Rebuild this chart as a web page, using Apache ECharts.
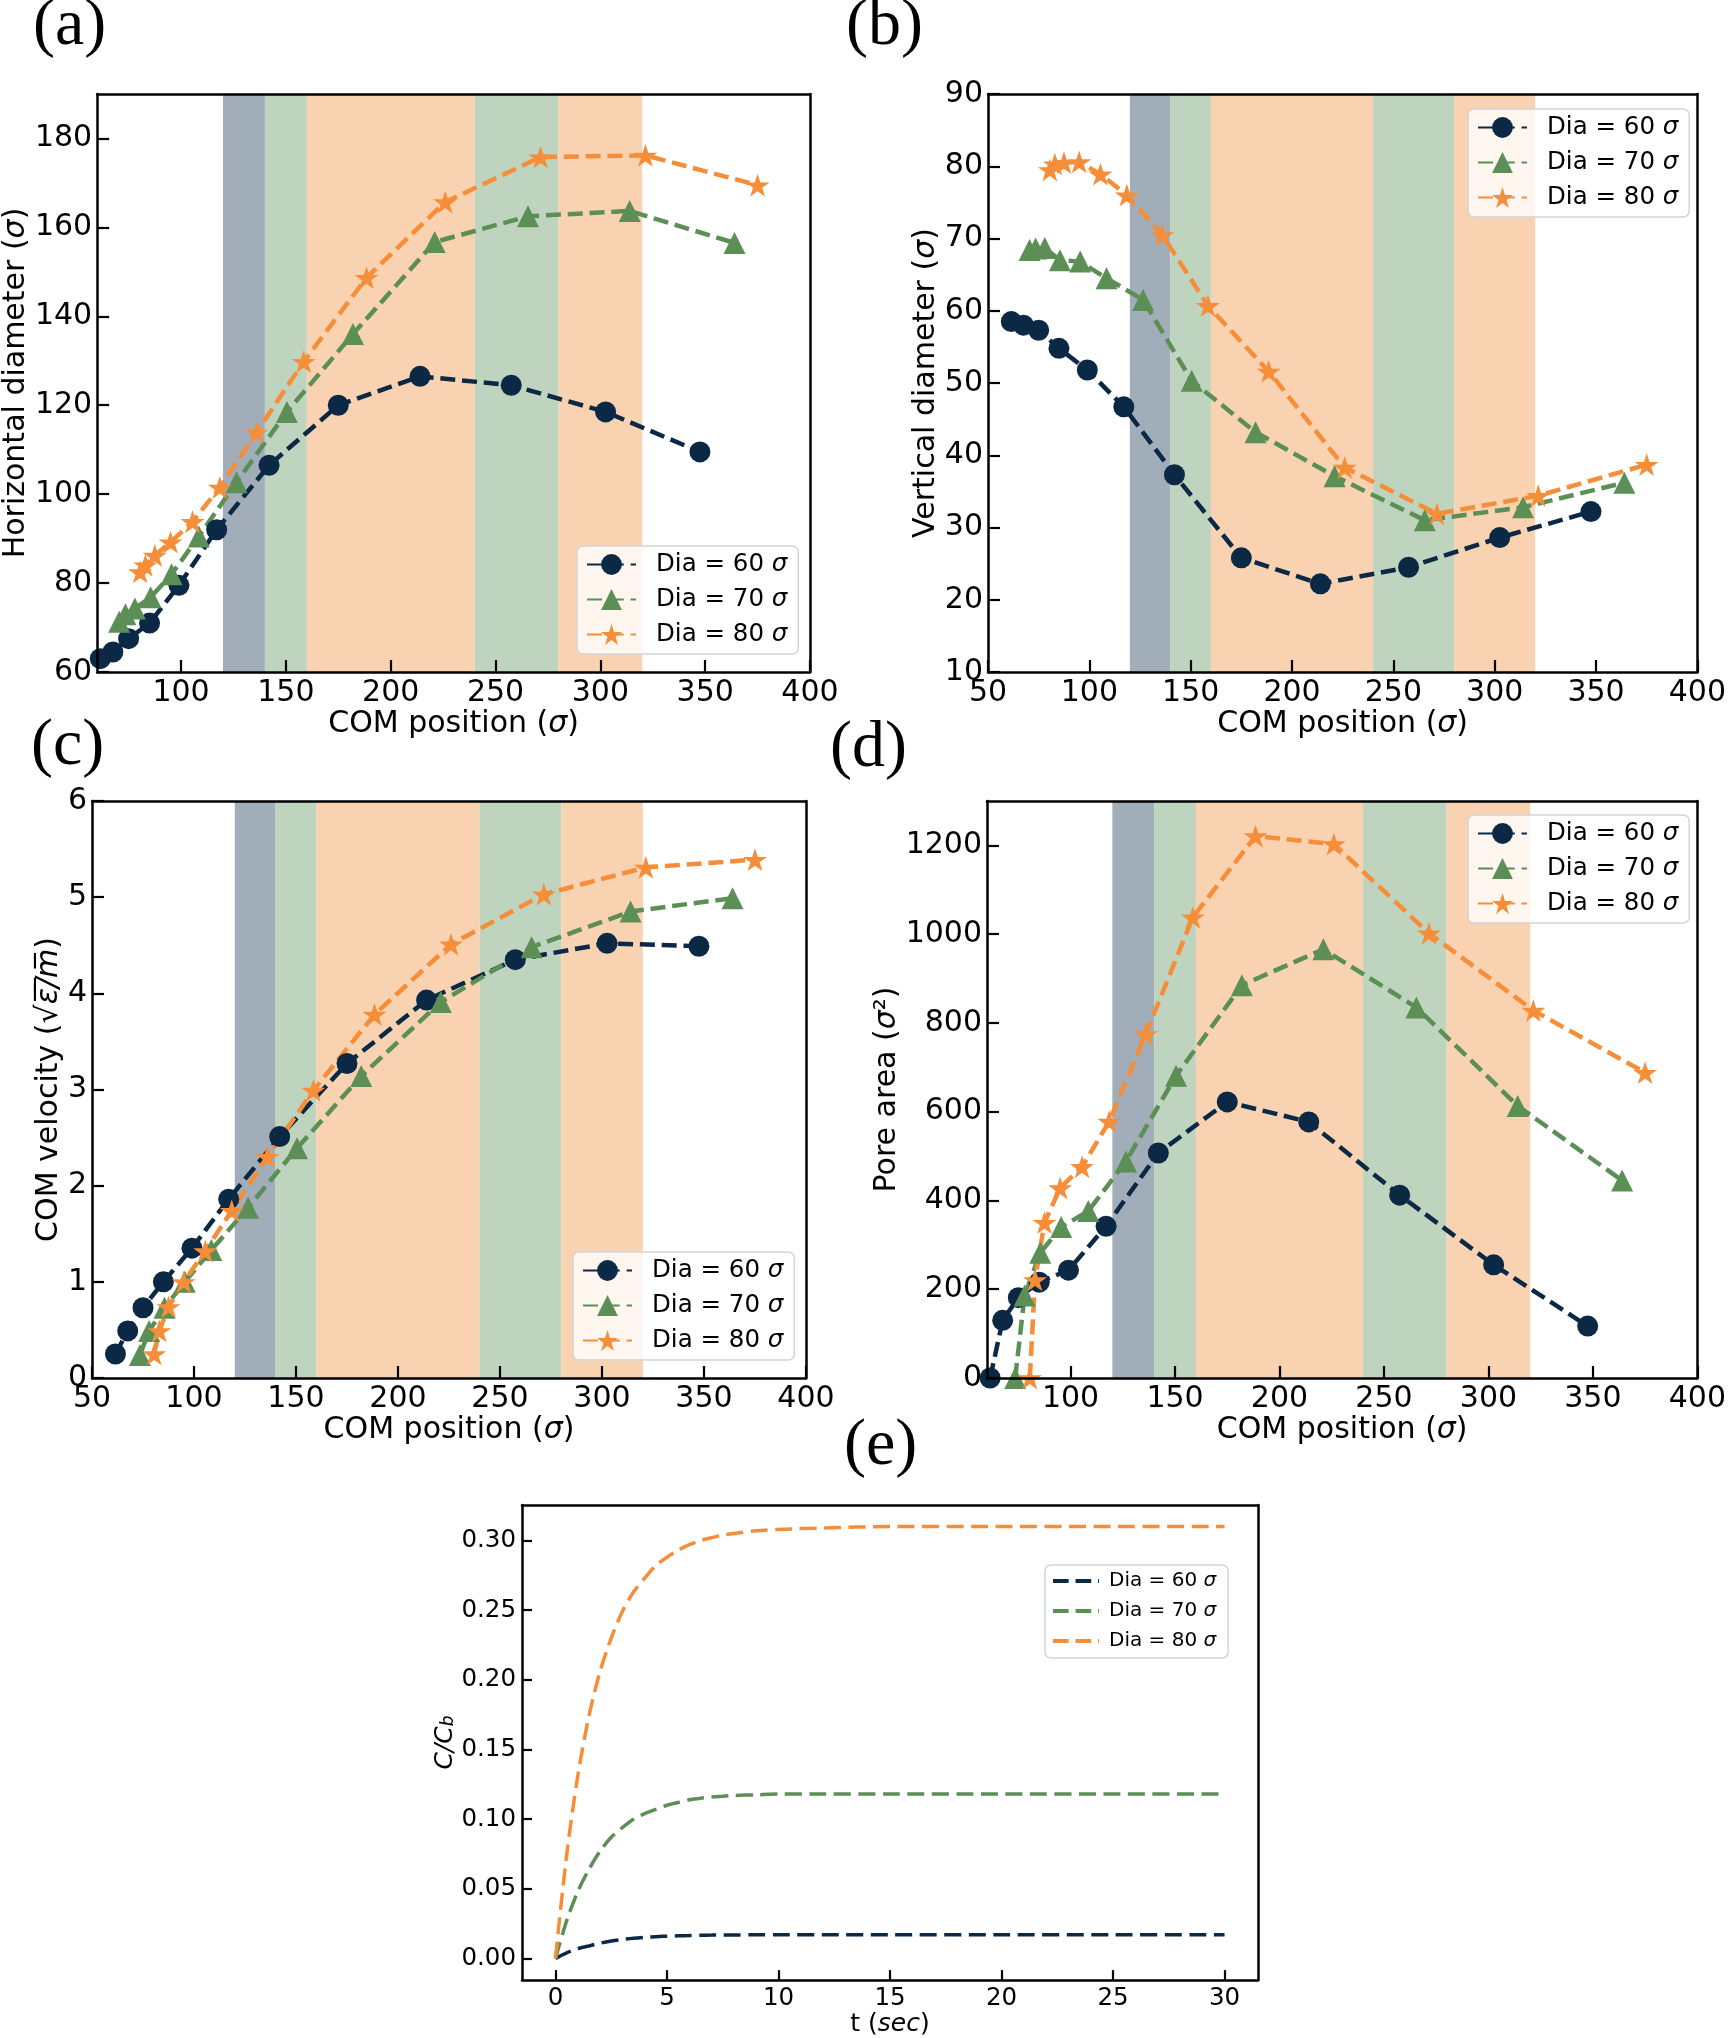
<!DOCTYPE html>
<html><head><meta charset="utf-8">
<script src="https://cdn.jsdelivr.net/npm/echarts@6/dist/echarts.min.js"></script>
<style>html,body{margin:0;padding:0;background:#fff}#c{width:1729px;height:2038px}</style>
</head><body><div id="c"></div>
<script>
// ---------------- data ----------------
const dias = [60, 70, 80];
// COM positions (sigma)
const pos60 = [61.5, 67.5, 75, 85, 99, 117, 142, 175, 214, 257.5, 302.5, 347.5];
const pos70 = [70.5, 73.5, 78, 85.5, 95.5, 108.5, 126.5, 150.5, 182, 221, 265.5, 314, 364];
const pos70cd = [73.5, 78, 85.5, 95.5, 108.5, 126.5, 150.5, 182, 221, 265.5, 314, 364];
const pos80 = [80.5, 83, 87.5, 95, 105.5, 118.5, 136, 158.5, 188.5, 226, 271.5, 321.5, 375];
// (a) horizontal diameter
const hDia60 = [63, 64.5, 67.5, 71, 79.5, 92, 106.5, 120, 126.5, 124.5, 118.5, 109.5];
const hDia70 = [71.3, 73, 74.3, 76.8, 82, 90.5, 102.7, 118.5, 136, 156.7, 162.5, 163.7, 156.5];
const hDia80 = [82.5, 84, 86.2, 89.2, 93.8, 101.5, 113.9, 129.8, 148.7, 165.7, 175.8, 176.2, 169.5];
// (b) vertical diameter
const vDia60 = [58.5, 58.0, 57.3, 54.8, 51.8, 46.7, 37.3, 25.8, 22.2, 24.5, 28.6, 32.2];
const vDia70 = [68.4, 68.6, 68.7, 67.0, 66.8, 64.5, 61.5, 50.3, 43.2, 37.1, 31.0, 32.8, 36.2];
const vDia80 = [79.5, 80.3, 80.5, 80.6, 78.9, 76.0, 70.5, 60.7, 51.6, 38.3, 31.9, 34.4, 38.7];
// (c) COM velocity
const vel60 = [0.25, 0.49, 0.73, 1.0, 1.35, 1.86, 2.51, 3.27, 3.93, 4.35, 4.52, 4.49];
const vel70 = [0.24, 0.49, 0.73, 1.0, 1.33, 1.77, 2.39, 3.14, 3.91, 4.48, 4.85, 4.99];
const vel80 = [0.25, 0.49, 0.74, 1.0, 1.32, 1.74, 2.30, 2.99, 3.78, 4.51, 5.03, 5.31, 5.39];
// (d) pore area
const area60 = [0, 130, 181, 216, 243, 342, 507, 622, 577, 412, 255, 117];
const area70 = [0, 186, 282, 340, 376, 488, 681, 885, 966, 835, 613, 445];
const area80 = [0, 221, 350, 428, 476, 578, 775, 1038, 1221, 1203, 1002, 828, 688];
// (e) concentration vs time
const tSec = [0, 0.5, 1, 1.5, 2, 2.5, 3, 3.5, 4, 4.5, 5, 5.5, 6, 6.5, 7, 7.5, 8, 9, 10, 12, 15, 20, 25, 30];
const conc60 = [0, 0.004, 0.007, 0.009, 0.011, 0.0125, 0.0137, 0.0146, 0.0152, 0.0157, 0.016, 0.0163, 0.0165, 0.0167, 0.0168, 0.0169, 0.0169, 0.017, 0.017, 0.017, 0.017, 0.017, 0.017, 0.017];
const conc70 = [0, 0.027, 0.048, 0.064, 0.077, 0.087, 0.094, 0.100, 0.104, 0.107, 0.110, 0.112, 0.114, 0.115, 0.116, 0.1165, 0.117, 0.1175, 0.118, 0.118, 0.118, 0.118, 0.118, 0.118];
const conc80 = [0, 0.074, 0.131, 0.174, 0.206, 0.230, 0.249, 0.263, 0.273, 0.282, 0.288, 0.293, 0.297, 0.300, 0.302, 0.304, 0.305, 0.307, 0.308, 0.309, 0.31, 0.31, 0.31, 0.31];
// shaded regions (COM position)
const bandEdges = [120, 140, 160, 240, 280, 320];
const bandKinds = ['dark', 'green', 'peach', 'green', 'peach'];
const panelLetters = ['(a)', '(b)', '(c)', '(d)', '(e)'];

// ---------------- styling ----------------
const FONT = "'DejaVu Sans', sans-serif";
const BLACK = '#000';
const colors = {60: '#0b2845', 70: '#5b8f55', 80: '#f68e39'};
const bandColors = {dark: '#a1adb9', green: '#bfd4bf', peach: '#f9d2b1'};
const symbols = {60: 'circle', 70: 'triangle', 80: (function () {
  let s = 'path://';
  for (let k = 0; k < 10; k++) {
    const r = k % 2 ? 0.382 : 1;
    const a = (-90 + 36 * k) * Math.PI / 180;
    s += (k ? 'L' : 'M') + (r * Math.cos(a)).toFixed(4) + ',' + (r * Math.sin(a)).toFixed(4) + ' ';
  }
  return s + 'Z';
})()};
const symSizes = {60: 21, 70: 22, 80: 24};

function rich(fs) {
  return {
    i: {fontStyle: 'italic', fontFamily: FONT, fontSize: fs, color: BLACK},
    s: {fontStyle: 'italic', fontFamily: FONT, fontSize: Math.round(fs * 0.68), color: BLACK, verticalAlign: 'bottom'}
  };
}
function mainAxis(gi, pos, min, max, step, c) {
  return {
    type: 'value', gridIndex: gi, position: pos, min: min, max: max, minInterval: step, maxInterval: step,
    z: 10, splitLine: {show: false},
    axisLine: {show: true, onZero: false, lineStyle: {color: BLACK, width: 2.5}},
    axisTick: {show: true, inside: true, length: c.tick, lineStyle: {color: BLACK, width: 2.2}},
    axisLabel: {show: true, color: BLACK, fontFamily: FONT, fontSize: c.fs, margin: c.margin,
      showMinLabel: c.showMin, showMaxLabel: c.showMax, formatter: c.fmt || (v => String(v))},
    name: c.name, nameLocation: 'middle', nameGap: c.gap,
    nameTextStyle: {color: BLACK, fontFamily: FONT, fontSize: c.nfs, rich: rich(c.nfs)}
  };
}
function frameAxis(gi, pos, min, max) {
  return {type: 'value', gridIndex: gi, position: pos, min: min, max: max, z: 10,
    splitLine: {show: false}, axisLine: {show: true, onZero: false, lineStyle: {color: BLACK, width: 2.5}},
    axisTick: {show: false}, axisLabel: {show: false}};
}

const grids = [
  {left: 96, top: 94, width: 714, height: 578},
  {left: 988, top: 94, width: 712, height: 578},
  {left: 92, top: 801, width: 714, height: 577},
  {left: 987, top: 801, width: 713, height: 577},
  {left: 522, top: 1505, width: 736, height: 479}
];

// panel definitions: x range, y range, names
const panels = [
  {x: [60, 400, 50], y: [60, 190, 20], xShow: [false, true], yShow: [true, false],
   yName: 'Horizontal diameter ({i|σ})', yGap: 63, xGap: 32,
   xs: [pos60, pos70, pos80], ys: [hDia60, hDia70, hDia80], legend: [577, 546]},
  {x: [50, 400, 50], y: [10, 90, 10], xShow: [true, true], yShow: [true, true],
   yName: 'Vertical diameter ({i|σ})', yGap: 47, xGap: 32,
   xs: [pos60, pos70, pos80], ys: [vDia60, vDia70, vDia80], legend: [1468, 109]},
  {x: [50, 400, 50], y: [0, 6, 1], xShow: [true, true], yShow: [true, true],
   yName: 'COM velocity (√{i|ε̅/̅m̅})', yGap: 26, xGap: 36,
   xs: [pos60, pos70cd, pos80], ys: [vel60, vel70, vel80], legend: [573, 1252]},
  {x: [60, 400, 50], y: [0, 1300, 200], xShow: [false, true], yShow: [true, false],
   yName: 'Pore area ({i|σ}²)', yGap: 85, xGap: 36,
   xs: [pos60, pos70cd, pos80], ys: [area60, area70, area80], legend: [1468, 815]}
];

const xAxes = [], yAxes = [], series = [], legends = [];
panels.forEach((p, gi) => {
  xAxes.push(mainAxis(gi, 'bottom', p.x[0], p.x[1], p.x[2], {tick: 12, fs: 30, margin: 6,
    showMin: p.xShow[0], showMax: p.xShow[1], name: 'COM position ({i|σ})', gap: p.xGap, nfs: 30}));
  xAxes.push(frameAxis(gi, 'top', p.x[0], p.x[1]));
  yAxes.push(mainAxis(gi, 'left', p.y[0], p.y[1], p.y[2], {tick: 12, fs: 30, margin: 5,
    showMin: p.yShow[0], showMax: p.yShow[1], name: p.yName, gap: p.yGap, nfs: 30}));
  yAxes.push(frameAxis(gi, 'right', p.y[0], p.y[1]));
  series.push({
    type: 'line', xAxisIndex: 2 * gi, yAxisIndex: 2 * gi, data: [], z: 1, silent: true,
    markArea: {silent: true, data: bandKinds.map((k, i) => [
      {xAxis: bandEdges[i], itemStyle: {color: bandColors[k], opacity: 1}},
      {xAxis: bandEdges[i + 1]}
    ])}
  });
  dias.forEach((d, k) => {
    series.push({
      type: 'line', name: 'Dia = ' + d + ' σ', xAxisIndex: 2 * gi, yAxisIndex: 2 * gi, z: 3,
      data: p.xs[k].map((x, i) => [x, p.ys[k][i]]),
      symbol: symbols[d], symbolSize: symSizes[d], symbolKeepAspect: true, showSymbol: true,
      lineStyle: {color: colors[d], width: 4.5, type: [15, 6.8]},
      itemStyle: {color: colors[d], borderWidth: 0},
      emphasis: {disabled: true}
    });
  });
  legends.push({
    show: true, orient: 'vertical', left: p.legend[0], top: p.legend[1],
    data: dias.map(d => 'Dia = ' + d + ' σ'), selectedMode: false,
    itemWidth: 49, itemHeight: 26, itemGap: 10, padding: [6, 11, 7, 9],
    backgroundColor: 'rgba(255,255,255,0.8)', borderColor: '#d4d4d4', borderWidth: 1.5, borderRadius: 6,
    formatter: n => '{t|' + n.slice(0, -1) + '}{i|σ}',
    textStyle: {color: BLACK, fontFamily: FONT, fontSize: 24.5,
      rich: {t: {fontFamily: FONT, fontSize: 24.5, color: BLACK, padding: [0, 0, 0, 15]},
             i: {fontFamily: FONT, fontSize: 24.5, color: BLACK, fontStyle: 'italic'}}}
  });
});

// panel (e)
xAxes.push(mainAxis(4, 'bottom', -1.5, 31.5, 5, {tick: 10, fs: 24.5, margin: 6,
  showMin: false, showMax: false, name: 't ({i|sec})', gap: 27, nfs: 25}));
xAxes.push(frameAxis(4, 'top', -1.5, 31.5));
yAxes.push(mainAxis(4, 'left', -0.0155, 0.3255, 0.05, {tick: 10, fs: 24.5, margin: 6,
  showMin: false, showMax: false, name: '{i|C/C}{s|b}', gap: 64, nfs: 25,
  fmt: v => v.toFixed(2)}));
yAxes.push(frameAxis(4, 'right', -0.0155, 0.3255));
const concs = {60: conc60, 70: conc70, 80: conc80};
dias.forEach(d => {
  series.push({
    type: 'line', name: 'e' + d, xAxisIndex: 8, yAxisIndex: 8, z: 3,
    data: tSec.map((t, i) => [t, concs[d][i]]),
    symbol: 'none', smooth: 0.3,
    lineStyle: {color: colors[d], width: 3.5, type: [17, 7.5]},
    itemStyle: {color: colors[d]}, emphasis: {disabled: true}
  });
});
const dashIcon = 'path://M0,0H17V4H0Z M24.5,0H41.5V4H24.5Z M49,0H50V4H49Z';
legends.push({
  show: true, orient: 'vertical', left: 1045, top: 1565, selectedMode: false,
  data: dias.map(d => ({name: 'e' + d, icon: dashIcon})),
  symbolKeepAspect: false, itemWidth: 46, itemHeight: 4, itemGap: 10, padding: [6, 12, 7, 8],
  backgroundColor: 'rgba(255,255,255,0.8)', borderColor: '#d4d4d4', borderWidth: 1.5, borderRadius: 6,
  formatter: n => '{t|Dia = ' + n.slice(1) + ' }{i|σ}',
  textStyle: {color: BLACK, fontFamily: FONT, fontSize: 20,
    rich: {t: {fontFamily: FONT, fontSize: 20, color: BLACK, padding: [0, 0, 0, 5]},
           i: {fontFamily: FONT, fontSize: 20, color: BLACK, fontStyle: 'italic'}}}
});

const letterPos = [[33, 27], [846, 27], [31, 747], [830, 749], [844, 1447]];
const graphics = panelLetters.map((t, i) => ({
  type: 'text', x: letterPos[i][0], y: letterPos[i][1], z: 20,
  style: {text: t, font: '66px "Liberation Serif", "DejaVu Serif", serif', fill: BLACK,
    align: 'left', verticalAlign: 'middle'}
}));

const chart = echarts.init(document.getElementById('c'), null, {renderer: 'canvas'});
chart.setOption({
  animation: false, backgroundColor: '#fff',
  grid: grids.map(g => Object.assign({show: false, containLabel: false}, g)),
  xAxis: xAxes, yAxis: yAxes, series: series, legend: legends, graphic: graphics,
  tooltip: {show: false}
});
</script></body></html>
